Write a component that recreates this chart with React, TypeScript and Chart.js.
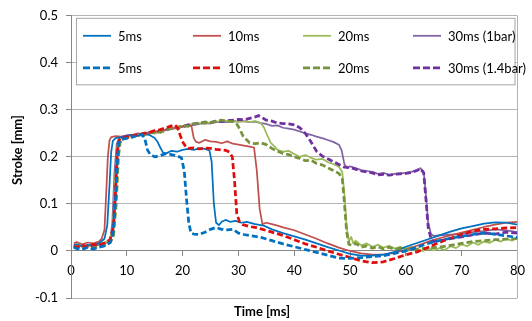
import React, { useEffect, useRef } from 'react';
import { Chart, registerables } from 'chart.js';

Chart.register(...registerables);

const FONT = 'Lato, "Liberation Sans", sans-serif';

const seriesLabels = ['5ms', '10ms', '20ms', '30ms (1bar)', '5ms', '10ms', '20ms', '30ms (1.4bar)'];
const seriesColors = ['#0070c0', '#c0504d', '#9bbb59', '#8064a2', '#0070c0', '#e00d0d', '#77933c', '#7030a0'];

const xTicks = [0, 10, 20, 30, 40, 50, 60, 70, 80];
const yTicks = [-0.1, 0, 0.1, 0.2, 0.3, 0.4, 0.5];

// [time ms, stroke mm]
const blue5ms1bar: [number, number][] = [
  [0.5,0.012],[1,0.014],[2,0.010],[3,0.013],[4,0.012],[5,0.016],[6,0.026],[6.5,0.055],[6.9,0.14],[7.2,0.21],[7.5,0.234],[8,0.240],[9,0.242],[10,0.245],[11,0.247],[12,0.245],[13,0.249],[14,0.247],[15,0.240],[15.5,0.232],[16,0.220],[16.5,0.209],[17,0.207],[18,0.213],[19,0.211],[20,0.215],[21,0.217],[22,0.215],[23,0.218],[24,0.217],[24.8,0.214],[25.2,0.19],[25.6,0.10],[26,0.060],[26.5,0.055],[27,0.062],[27.7,0.066],[28.5,0.062],[29.5,0.064],[30.5,0.060],[31.5,0.062],[33,0.057],[34.5,0.054],[36,0.046],[38,0.038],[40,0.031],[42,0.024],[44,0.016],[46,0.008],[48,0.001],[50,-0.006],[52,-0.010],[54,-0.010],[56,-0.008],[58,-0.002],[60,0.009],[62,0.017],[64,0.025],[66,0.033],[68,0.041],[70,0.048],[72,0.053],[74,0.058],[76,0.061],[78,0.060],[80,0.056],
];
const red10ms1bar: [number, number][] = [
  [0.5,0.016],[1,0.019],[2,0.014],[3,0.018],[4,0.016],[5,0.020],[5.5,0.026],[6,0.045],[6.3,0.12],[6.6,0.20],[6.9,0.235],[7.2,0.242],[8,0.244],[9,0.243],[10,0.246],[11,0.247],[12,0.250],[13,0.248],[14,0.252],[15,0.255],[16,0.253],[17,0.258],[18,0.262],[19,0.260],[20,0.265],[21,0.268],[21.6,0.265],[22,0.240],[22.4,0.232],[23,0.230],[24,0.236],[25,0.233],[26,0.232],[27,0.229],[28,0.233],[29,0.228],[30,0.226],[31,0.224],[32,0.222],[32.8,0.220],[33.3,0.17],[33.8,0.09],[34.3,0.057],[35,0.060],[36,0.057],[37,0.054],[38,0.050],[40,0.044],[42,0.035],[44,0.026],[46,0.016],[48,0.007],[50,0.000],[52,-0.005],[54,-0.008],[56,-0.007],[58,-0.004],[60,0.003],[62,0.011],[64,0.020],[66,0.027],[68,0.033],[70,0.039],[72,0.045],[74,0.051],[76,0.056],[78,0.060],[80,0.062],
];
const green20ms1bar: [number, number][] = [
  [0.5,0.012],[1,0.014],[2,0.011],[3,0.010],[4,0.014],[5,0.015],[6,0.018],[7,0.024],[7.5,0.05],[7.9,0.15],[8.3,0.22],[8.7,0.236],[9,0.240],[10,0.242],[11,0.245],[12,0.246],[13,0.248],[14,0.252],[15,0.250],[16,0.255],[17,0.258],[18,0.260],[19,0.263],[20,0.266],[21,0.268],[22,0.271],[23,0.272],[24,0.270],[25,0.274],[26,0.276],[27,0.274],[28,0.277],[29,0.276],[30,0.275],[31,0.276],[32,0.274],[33,0.276],[34,0.272],[34.6,0.262],[35.2,0.245],[35.8,0.230],[36.5,0.222],[37,0.215],[38,0.211],[39,0.213],[40,0.206],[41,0.200],[42,0.204],[43,0.198],[44,0.194],[45,0.196],[46,0.189],[47,0.185],[48,0.179],[48.6,0.168],[49,0.12],[49.4,0.05],[49.8,0.020],[50.2,0.030],[50.6,0.016],[51,0.022],[52,0.012],[53,0.016],[54,0.009],[55,0.013],[56,0.007],[57,0.011],[58,0.005],[59,0.009],[60,0.005],[61,0.009],[62,0.003],[63,0.000],[64,0.005],[65,0.001],[66,0.006],[67,0.002],[68,0.010],[69,0.006],[70,0.014],[71,0.010],[72,0.018],[73,0.013],[74,0.020],[75,0.017],[76,0.024],[77,0.020],[78,0.026],[79,0.022],[80,0.028],
];
const purple30ms1bar: [number, number][] = [
  [0.5,0.010],[1,0.012],[2,0.009],[3,0.012],[4,0.010],[5,0.013],[6,0.016],[7,0.022],[7.4,0.06],[7.8,0.17],[8.2,0.228],[8.6,0.238],[9,0.240],[10,0.244],[11,0.246],[12,0.244],[13,0.249],[14,0.251],[15,0.250],[16,0.254],[17,0.257],[18,0.259],[19,0.262],[20,0.264],[21,0.266],[22,0.268],[23,0.270],[24,0.272],[25,0.271],[26,0.274],[27,0.275],[28,0.274],[29,0.276],[30,0.275],[31,0.276],[32,0.274],[33,0.275],[34,0.272],[35,0.270],[36,0.266],[37,0.267],[38,0.262],[39,0.260],[40,0.258],[41,0.254],[42,0.250],[43,0.247],[44,0.243],[45,0.240],[46,0.236],[47,0.232],[48,0.226],[48.5,0.214],[49,0.184],[49.5,0.177],[50,0.180],[51,0.176],[52,0.172],[53,0.170],[54,0.168],[55,0.164],[56,0.166],[57,0.162],[58,0.164],[59,0.165],[60,0.166],[61,0.168],[62,0.172],[62.6,0.176],[63.2,0.168],[63.6,0.12],[64,0.06],[64.5,0.036],[65,0.032],[66,0.033],[68,0.035],[70,0.036],[72,0.040],[74,0.042],[76,0.046],[78,0.044],[80,0.040],
];
const blue5ms14bar: [number, number][] = [
  [0.5,0.008],[1,0.005],[2,0.003],[3,0.008],[4,0.004],[5,0.008],[6,0.011],[7,0.018],[7.5,0.035],[8,0.11],[8.3,0.19],[8.6,0.230],[9,0.237],[10,0.240],[11,0.242],[12,0.246],[12.7,0.248],[13.2,0.240],[13.7,0.215],[14.2,0.205],[15,0.200],[16,0.203],[17,0.207],[18,0.205],[19,0.202],[19.8,0.198],[20.3,0.17],[20.7,0.11],[21.1,0.06],[21.5,0.038],[22,0.036],[23,0.035],[24,0.040],[25,0.046],[26,0.050],[27,0.046],[28,0.045],[29,0.046],[30,0.038],[31,0.035],[32,0.033],[34,0.029],[36,0.022],[38,0.015],[40,0.009],[42,0.003],[44,-0.003],[46,-0.009],[48,-0.015],[50,-0.016],[52,-0.014],[54,-0.012],[56,-0.010],[58,-0.005],[60,0.000],[62,0.008],[64,0.016],[66,0.022],[68,0.027],[70,0.031],[72,0.035],[74,0.038],[76,0.036],[78,0.032],[80,0.029],
];
const red10ms14bar: [number, number][] = [
  [0.5,0.010],[1,0.008],[2,0.012],[3,0.009],[4,0.014],[5,0.012],[6,0.017],[7,0.024],[7.6,0.05],[8,0.13],[8.3,0.21],[8.6,0.236],[9,0.240],[10,0.242],[11,0.245],[12,0.247],[13,0.250],[14,0.252],[15,0.256],[16,0.258],[17,0.262],[18,0.266],[18.6,0.268],[19.1,0.262],[19.6,0.245],[20.1,0.230],[20.6,0.221],[21,0.218],[22,0.219],[23,0.217],[24,0.219],[25,0.218],[26,0.216],[27,0.215],[27.7,0.214],[28.4,0.210],[28.9,0.200],[29.3,0.150],[29.7,0.080],[30.2,0.062],[30.8,0.056],[32,0.052],[33,0.050],[34,0.047],[36,0.040],[38,0.033],[40,0.024],[42,0.015],[44,0.008],[46,0.000],[48,-0.007],[50,-0.014],[52,-0.021],[54,-0.025],[56,-0.023],[58,-0.016],[60,-0.008],[62,-0.002],[64,0.008],[66,0.018],[68,0.027],[70,0.035],[72,0.042],[74,0.046],[76,0.047],[78,0.049],[80,0.050],
];
const green20ms14bar: [number, number][] = [
  [0.5,0.008],[1,0.010],[2,0.007],[3,0.009],[4,0.006],[5,0.010],[6,0.012],[7,0.018],[7.6,0.03],[8.1,0.10],[8.5,0.20],[8.8,0.230],[9.2,0.238],[10,0.240],[11,0.243],[12,0.247],[13,0.246],[14,0.250],[15,0.253],[16,0.252],[17,0.257],[18,0.261],[19,0.262],[20,0.266],[21,0.265],[22,0.270],[23,0.272],[24,0.274],[25,0.273],[26,0.276],[27,0.278],[28,0.276],[29,0.275],[29.6,0.272],[30.2,0.260],[30.8,0.245],[31.5,0.236],[32,0.230],[33,0.228],[34,0.230],[35,0.226],[36,0.218],[37,0.212],[38,0.207],[39,0.205],[40,0.200],[41,0.197],[42,0.192],[43,0.193],[44,0.186],[45,0.183],[46,0.177],[47,0.171],[48,0.165],[48.6,0.155],[49,0.10],[49.4,0.04],[49.8,0.014],[50.5,0.012],[51,0.016],[52,0.008],[53,0.011],[54,0.006],[55,0.009],[56,0.004],[57,0.008],[58,0.003],[59,0.006],[60,0.002],[62,0.004],[64,0.006],[66,0.008],[68,0.012],[70,0.016],[72,0.020],[74,0.022],[76,0.024],[78,0.025],[80,0.026],
];
const purple30ms14bar: [number, number][] = [
  [0.5,0.007],[1,0.009],[2,0.006],[3,0.010],[4,0.007],[5,0.009],[6,0.012],[7,0.018],[7.6,0.04],[8,0.12],[8.4,0.215],[8.8,0.236],[9.2,0.240],[10,0.243],[11,0.245],[12,0.247],[13,0.249],[14,0.251],[15,0.253],[16,0.255],[17,0.258],[18,0.261],[19,0.263],[20,0.264],[21,0.268],[22,0.270],[23,0.271],[24,0.274],[25,0.273],[26,0.276],[27,0.275],[28,0.277],[29,0.278],[30,0.280],[31,0.279],[32,0.282],[33,0.285],[33.6,0.288],[34.3,0.283],[35,0.278],[36,0.276],[37,0.272],[38,0.271],[39,0.270],[40,0.268],[41,0.262],[42,0.250],[43,0.232],[44,0.212],[45,0.202],[46,0.196],[47,0.190],[48,0.184],[49,0.178],[50,0.177],[51,0.174],[52,0.170],[53,0.168],[54,0.166],[55,0.162],[56,0.163],[57,0.161],[58,0.163],[59,0.164],[60,0.165],[61,0.167],[62,0.171],[62.6,0.175],[63.2,0.166],[63.6,0.11],[64,0.05],[64.6,0.022],[65,0.020],[66,0.022],[68,0.026],[70,0.030],[72,0.034],[74,0.038],[76,0.036],[78,0.040],[80,0.038],
];

const seriesData = [
  blue5ms1bar, red10ms1bar, green20ms1bar, purple30ms1bar,
  blue5ms14bar, red10ms14bar, green20ms14bar, purple30ms14bar,
];

const AXIS = '#868686';
const GRID = '#b3b3b3';

export default function App() {
  const ref = useRef<HTMLCanvasElement>(null);

  useEffect(() => {
    document.body.style.margin = '0';
    const canvas = ref.current;
    if (!canvas) return;

    const datasets = seriesData.map((pts, i) => {
      const dashed = i >= 4;
      return {
        label: seriesLabels[i],
        data: pts.map(([x, y]) => ({ x, y })),
        borderColor: seriesColors[i],
        backgroundColor: seriesColors[i],
        borderWidth: dashed ? 2.75 : 1.75,
        borderDash: dashed ? [6, 3] : [],
        borderJoinStyle: 'round',
        pointRadius: 0,
        tension: 0,
        fill: false,
        order: dashed ? 0 : 1,
      };
    });

    const extras = {
      id: 'extras',
      beforeDatasetsDraw(chart: any) {
        const { ctx, chartArea } = chart;
        ctx.save();
        ctx.strokeStyle = GRID;
        ctx.lineWidth = 1;
        ctx.beginPath();
        ctx.moveTo(Math.round(chartArea.right) + 0.5, chartArea.top);
        ctx.lineTo(Math.round(chartArea.right) + 0.5, chartArea.bottom);
        ctx.stroke();
        ctx.restore();
      },
      afterDatasetsDraw(chart: any) {
        const { ctx, chartArea } = chart;
        ctx.save();
        // legend box
        const bx = chartArea.left + 5.5;
        const by = chartArea.top + 2.5;
        const bw = 438.5;
        const bh = 66.5;
        ctx.fillStyle = '#ffffff';
        ctx.fillRect(bx, by, bw, bh);
        ctx.strokeStyle = '#a6a6a6';
        ctx.lineWidth = 1;
        ctx.strokeRect(bx, by, bw, bh);
        const colX = [12, 122, 232, 342];
        const rowY = [20, 52];
        ctx.font = `13px ${FONT}`;
        ctx.textBaseline = 'middle';
        ctx.textAlign = 'left';
        for (let i = 0; i < 8; i++) {
          const dashed = i >= 4;
          const x0 = chartArea.left + colX[i % 4];
          const y0 = chartArea.top + rowY[dashed ? 1 : 0];
          ctx.strokeStyle = seriesColors[i];
          ctx.lineWidth = dashed ? 2.75 : 1.75;
          ctx.setLineDash(dashed ? [7, 3] : []);
          ctx.beginPath();
          ctx.moveTo(x0, y0);
          ctx.lineTo(x0 + 28, y0);
          ctx.stroke();
          ctx.setLineDash([]);
          ctx.fillStyle = '#000';
          ctx.fillText(seriesLabels[i], x0 + 35, y0 + 1);
        }
        // axis titles
        ctx.font = `bold 13px ${FONT}`;
        ctx.fillStyle = '#000';
        ctx.textAlign = 'center';
        ctx.textBaseline = 'middle';
        ctx.fillText('Time [ms]', 262, 312);
        ctx.translate(18, 150);
        ctx.rotate(-Math.PI / 2);
        ctx.fillText('Stroke [mm]', 0, 0);
        ctx.restore();
      },
    };

    const chart = new Chart(canvas, {
      type: 'line',
      data: { datasets } as any,
      options: {
        responsive: false,
        animation: false,
        devicePixelRatio: 1,
        layout: { padding: { left: 0, right: 11, top: 13, bottom: 23 } },
        plugins: { legend: { display: false }, tooltip: { enabled: false }, title: { display: false } },
        scales: {
          x: {
            type: 'linear',
            min: 0,
            max: 80,
            position: { y: 0 } as any,
            afterBuildTicks: (s: any) => { s.ticks = xTicks.map((v) => ({ value: v })); },
            afterFit: (s: any) => { s.height = 0; },
            ticks: { padding: 7, color: '#000', font: { family: FONT, size: 13 }, maxRotation: 0, autoSkip: false },
            grid: { drawOnChartArea: false, drawTicks: true, tickLength: 5, color: AXIS },
            border: { color: AXIS, width: 1 },
          },
          y: {
            type: 'linear',
            min: -0.1,
            max: 0.5,
            afterBuildTicks: (s: any) => { s.ticks = yTicks.map((v) => ({ value: v })); },
            afterFit: (s: any) => { s.width = 71; },
            ticks: {
              padding: 8,
              color: '#000',
              font: { family: FONT, size: 13 },
              callback: (v: any) => (Math.abs(Number(v)) < 1e-9 ? '0' : Number(v).toFixed(1)),
            },
            grid: { color: GRID, tickLength: 5, tickColor: AXIS },
            border: { color: AXIS, width: 1 },
          },
        },
      } as any,
      plugins: [extras],
    });

    return () => chart.destroy();
  }, []);

  return (
    <div style={{ width: 532, height: 321 }}>
      <canvas ref={ref} width={532} height={321} style={{ display: 'block', width: 532, height: 321 }} />
    </div>
  );
}
